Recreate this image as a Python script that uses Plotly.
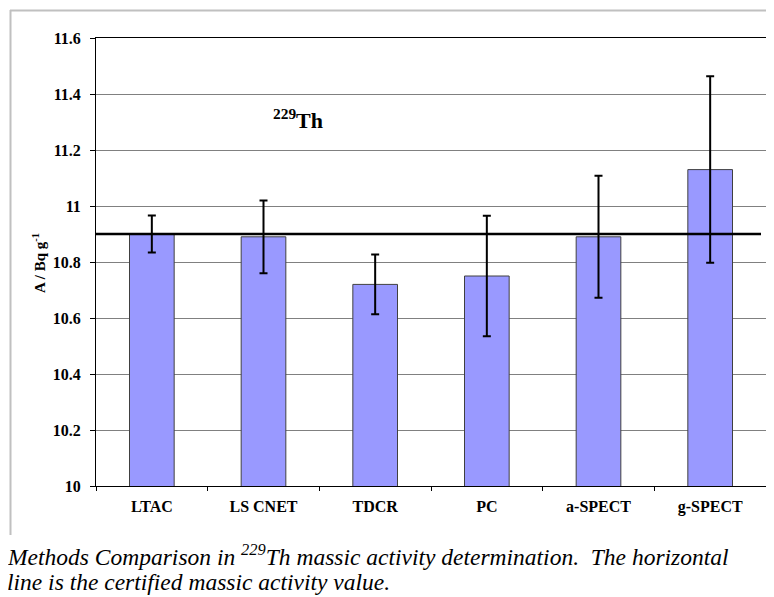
import plotly.graph_objects as go

methods = ["LTAC", "LS CNET", "TDCR", "PC", "a-SPECT", "g-SPECT"]
activity = [10.90, 10.89, 10.72, 10.75, 10.89, 11.13]
uncertainty = [0.066, 0.13, 0.107, 0.215, 0.218, 0.333]
certified_value = 10.90
y_ticks = [10, 10.2, 10.4, 10.6, 10.8, 11, 11.2, 11.4, 11.6]
y_tick_labels = ["10", "10.2", "10.4", "10.6", "10.8", "11", "11.2", "11.4", "11.6"]

OFF = 8  # browser body margin
W, H = 774 - OFF, 597 - OFF
L, T = 96 - OFF, 38 - OFF
pw, ph = 670, 448
R = W - L - pw
B = H - T - ph

def px_x(p):
    return (p - OFF - L) / pw

def px_y(p):
    return (T + ph - (p - OFF)) / ph

FONT = "Liberation Serif, Times New Roman, serif"

fig = go.Figure()
fig.add_trace(go.Bar(
    x=methods, y=activity,
    marker=dict(color="#9999FF", line=dict(color="#404040", width=1)),
    width=0.4,
    error_y=dict(type="data", array=uncertainty, visible=True,
                 color="black", thickness=2, width=4),
    showlegend=False,
))

fig.update_layout(
    width=W, height=H,
    margin=dict(l=L, r=R, t=T, b=B, pad=0),
    paper_bgcolor="white", plot_bgcolor="white",
    font=dict(family=FONT, color="black"),
    bargap=0.6,
    xaxis=dict(
        type="category",
        showline=True, linecolor="black", linewidth=1, mirror=True,
        ticks="outside", ticklen=4, tickcolor="black", tickson="boundaries",
        showgrid=False,
        tickfont=dict(family=FONT, size=16, color="black", weight="bold"),
        ticklabelstandoff=6,
    ),
    yaxis=dict(
        range=[10, 11.6],
        tickvals=y_ticks, ticktext=y_tick_labels,
        showline=True, linecolor="black", linewidth=1, mirror=True,
        ticks="outside", ticklen=5, tickcolor="black",
        showgrid=True, gridcolor="#808080", gridwidth=1,
        zeroline=False,
        tickfont=dict(family=FONT, size=16, color="black", weight="bold"),
        ticklabelstandoff=6,
    ),
)

# certified value line
fig.add_shape(type="line", xref="paper", yref="y",
              x0=0, x1=px_x(761), y0=certified_value, y1=certified_value,
              line=dict(color="black", width=2.5), layer="above")

# outer gray frame
fig.add_shape(type="line", xref="paper", yref="paper",
              x0=px_x(10), x1=px_x(774), y0=px_y(10.5), y1=px_y(10.5),
              line=dict(color="#c0c0c0", width=2))
fig.add_shape(type="line", xref="paper", yref="paper",
              x0=px_x(10.5), x1=px_x(10.5), y0=px_y(10), y1=px_y(535),
              line=dict(color="#c0c0c0", width=2))

# y-axis title
fig.add_annotation(xref="paper", yref="paper", x=px_x(39), y=px_y(263),
                   xanchor="center", yanchor="middle",
                   text="A / Bq g<sup>-1</sup>", textangle=-90, showarrow=False,
                   font=dict(family=FONT, size=15, color="black", weight="bold"))

# nuclide label
fig.add_annotation(xref="paper", yref="paper", x=px_x(271), y=px_y(119),
                   xanchor="left", yanchor="middle",
                   text="<sup>229</sup>Th", showarrow=False,
                   font=dict(family=FONT, size=22, color="black", weight="bold"))

# caption
CAP = 23.5
fig.add_annotation(xref="paper", yref="paper", x=px_x(5), y=px_y(555),
                   xanchor="left", yanchor="middle", align="left",
                   text="<i>Methods Comparison in <sup>229</sup>Th massic activity determination.  The horizontal</i>",
                   showarrow=False,
                   font=dict(family=FONT, size=CAP, color="black"))
fig.add_annotation(xref="paper", yref="paper", x=px_x(5), y=px_y(582),
                   xanchor="left", yanchor="middle", align="left",
                   text="<i>line is the certified massic activity value.</i>",
                   showarrow=False,
                   font=dict(family=FONT, size=CAP, color="black"))

fig.write_html("out.html")
